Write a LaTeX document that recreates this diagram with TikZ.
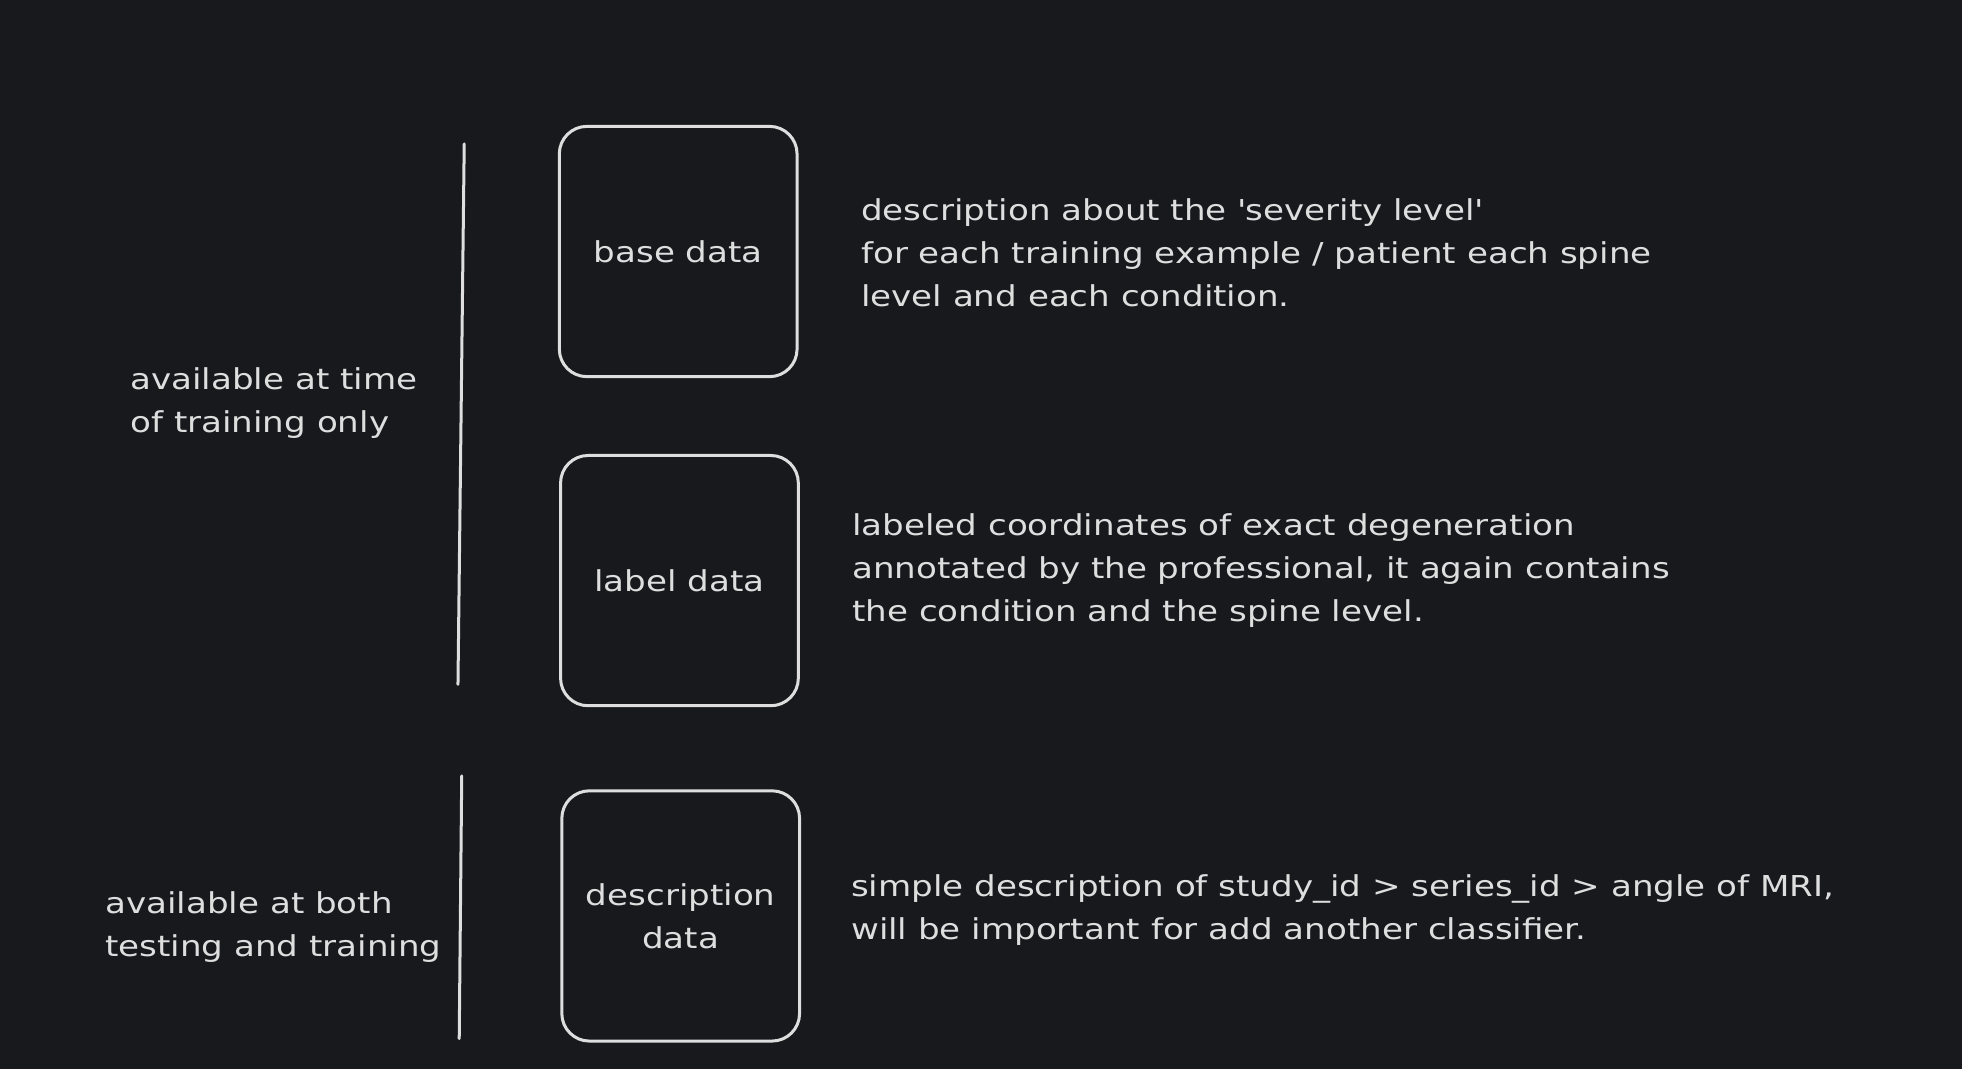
\documentclass[tikz,border=0pt]{standalone}
\usepackage{fontspec}
\setmainfont[FakeStretch=1.185]{DejaVu Sans}
\definecolor{bg}{HTML}{17191D}
\definecolor{ink}{HTML}{DEDEDE}
\begin{document}
\begin{tikzpicture}[x=1pt,y=-1pt,
  card/.style={draw=ink,line width=2.4pt,rounded corners=22pt,minimum width=190pt,minimum height=200pt,inner sep=0pt,text=ink,align=center},
  txt/.style={text=ink,align=left,anchor=west,inner sep=0pt},
  bar/.style={draw=ink,line width=2.4pt,line cap=round},
  every node/.style={font=\fontsize{23}{34.5}\selectfont}]
\fill[bg] (0,0) rectangle (1568,854);
\useasboundingbox (0,0) rectangle (1568,854);
\node[card] (base) at (542,201) {base data};
\node[card] (label) at (543,464) {label data};
\node[card] (desc) at (544,732) {description\\data};
\coordinate (l1a) at (371,115);
\coordinate (l1b) at (366,547);
\coordinate (l2a) at (369,620);
\coordinate (l2b) at (367,830);
\draw[bar] (l1a) -- (l1b);
\draw[bar] (l2a) -- (l2b);
\node[txt] (t1) at (104,322) {available at time\\of training only};
\node[txt] (t2) at (84,741) {available at both\\testing and training};
\node[txt] (d1) at (688,202) {description about the \textquotesingle severity level\textquotesingle\\for each training example / patient each spine\\level and each condition.};
\node[txt] (d2) at (681,456) {labeled coordinates of exact degeneration\\annotated by the professional, it again contains\\the condition and the spine level.};
\node[txt] (d3) at (680,727) {simple description of study\_id > series\_id > angle of MRI,\\will be important for add another classifier.};
\end{tikzpicture}
\end{document}
